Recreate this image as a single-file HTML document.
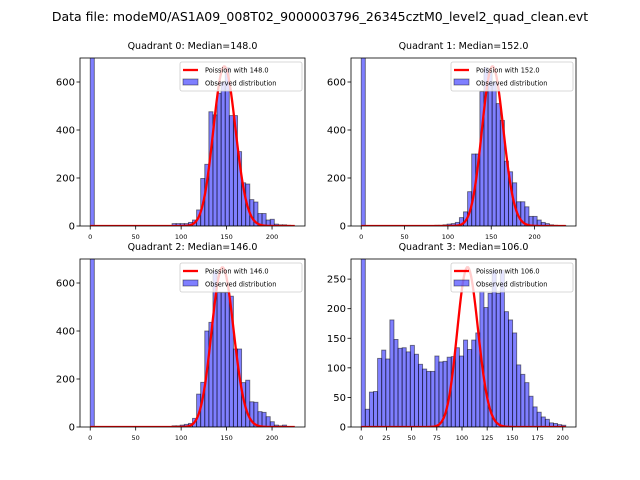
<!DOCTYPE html>
<html><head><meta charset="utf-8"><style>
body{margin:0;background:#fff;}
svg{display:block;font-family:"DejaVu Sans","Liberation Sans",sans-serif;}
</style></head><body>
<svg id="fig" width="640" height="480" viewBox="0 0 640 480">
<text x="320" y="21" font-size="12.5" text-anchor="middle">Data file: modeM0/AS1A09_008T02_9000003796_26345cztM0_level2_quad_clean.evt</text>
</svg>
<script>
const quadrantNames = ["Quadrant 0: Median=148.0","Quadrant 1: Median=152.0","Quadrant 2: Median=146.0","Quadrant 3: Median=106.0"];
const medians = [148, 152, 146, 106];
const curvePeaks = [665, 665, 665, 270];
const binWidths = [4.5, 4.72, 4.5, 4.06];
const counts0 = [2000,0,0,0,0,0,0,0,0,0,0,0,0,0,0,0,0,0,0,0,10,10,10,10,15,25,67,198,257,476,463,553,600,660,460,460,310,180,175,110,100,52,52,25,28,8,5,5,3,0];
const counts1 = [2000,0,0,0,0,0,0,0,0,0,0,0,0,0,0,0,0,0,3,3,5,8,10,15,35,59,143,300,300,560,660,640,600,510,440,270,226,180,101,101,80,40,40,25,15,10,5,3,2,2];
const counts2 = [2000,0,0,0,0,0,0,0,0,0,0,0,0,0,0,0,0,0,0,0,5,5,8,11,15,36,137,186,400,436,650,560,560,560,545,325,325,185,195,105,103,64,61,43,22,8,5,8,0,0];
const counts3 = [800,30,59,60,116,130,115,181,148,133,134,127,138,123,106,98,94,94,120,110,111,118,119,134,120,147,131,147,159,229,202,226,265,226,265,195,181,159,105,89,75,52,34,25,17,13,7,6,4,3];
const xTicks0 = [0,50,100,150,200];
const xTicks3 = [0,25,50,75,100,125,150,175,200];
const yTicks0 = [0,200,400,600];
const yTicks3 = [0,50,100,150,200,250];
const curveMax = [225, 236, 225, 203];
const xLims = [[-11.25,236.25],[-11.8,247.8],[-11.25,236.25],[-10.15,213.15]];
const yLims = [[0,700],[0,700],[0,700],[0,284]];

const allCounts=[counts0,counts1,counts2,counts3];
const boxes=[[80,58,225,168],[351,58,225,168],[80,259,225,168],[351,259,225,168]];
const NS="http://www.w3.org/2000/svg";
const svg=document.getElementById('fig');
function mk(tag,attrs,parent){const e=document.createElementNS(NS,tag);for(const k in attrs)e.setAttribute(k,attrs[k]);(parent||svg).appendChild(e);return e;}
function lgamma(z){ if(z<7){let p=1;while(z<7){p*=z;z++;}return lgamma(z)-Math.log(p);} return (z-0.5)*Math.log(z)-z+0.5*Math.log(2*Math.PI)+1/(12*z)-1/(360*z*z*z);}
function pois(k,l){return Math.exp(k*Math.log(l)-l-lgamma(k+1));}

for(let q=0;q<4;q++){
  const [bx,by,bw,bh]=boxes[q];
  const xl=xLims[q], yl=yLims[q];
  const X=v=>bx+(v-xl[0])/(xl[1]-xl[0])*bw;
  const Y=v=>by+bh-(v-yl[0])/(yl[1]-yl[0])*bh;
  const g=mk('g',{});
  
  
  const cp=mk('clipPath',{id:'c'+q},g);
  mk('rect',{x:bx,y:by,width:bw,height:bh},cp);
  const t=mk('text',{x:bx+bw/2,y:by-9,'font-size':'9.5','text-anchor':'middle'},g);
  t.textContent=quadrantNames[q];
  
  
  const bars=mk('g',{'clip-path':'url(#c'+q+')'},g);
  const cs=allCounts[q], w=binWidths[q];
  for(let i=0;i<cs.length;i++){
    if(cs[i]<=0)continue;
    const r=mk('rect',{x:X(i*w),y:Y(cs[i]),width:X((i+1)*w)-X(i*w),height:Y(0)-Y(cs[i]),fill:'rgba(0,0,255,0.5)',stroke:'rgba(0,0,0,0.5)','stroke-width':'0.9'},bars);
    
    
  }
  const lam=medians[q], norm=curvePeaks[q]/pois(Math.round(lam),lam);
  let d='';
  for(let k=0;k<=curveMax[q];k++){d+=(k?'L':'M')+X(k).toFixed(2)+','+Y(pois(k,lam)*norm).toFixed(2);}
  const p=mk('path',{d:d,fill:'none',stroke:'#ff0000','stroke-width':'2.3','clip-path':'url(#c'+q+')'},g);
  
  
  mk('rect',{x:bx,y:by,width:bw,height:bh,fill:'none',stroke:'#000','stroke-width':'0.8'},g);
  const xt=q===3?xTicks3:xTicks0;
  xt.forEach(v=>{
    mk('line',{x1:X(v),x2:X(v),y1:by+bh,y2:by+bh+3.5,stroke:'#000','stroke-width':'0.8'},g);
    const l=mk('text',{x:X(v),y:by+bh+13,'font-size':'6.5','text-anchor':'middle'},g);
    l.textContent=v;
    
    
  });
  const yt=q===3?yTicks3:yTicks0;
  yt.forEach(v=>{
    mk('line',{x1:bx-3.5,x2:bx,y1:Y(v),y2:Y(v),stroke:'#000','stroke-width':'0.8'},g);
    const l=mk('text',{x:bx-5,y:Y(v)+3.5,'font-size':'10','text-anchor':'end'},g);
    l.textContent=v;
    
    
  });
  const lg=mk('g',{},g);
  
  
  const lx=bx+bw-125, ly=by+4;
  mk('rect',{x:lx,y:ly,width:122,height:29,fill:'rgba(255,255,255,0.8)',stroke:'#ccc','stroke-width':'0.8',rx:'2'},lg);
  mk('line',{x1:lx+3,x2:lx+18,y1:ly+8,y2:ly+8,stroke:'#ff0000','stroke-width':'2.3'},lg);
  const t1=mk('text',{x:lx+25,y:ly+10.5,'font-size':'6.6'},lg);
  t1.textContent='Poission with '+lam.toFixed(1);
  
  
  mk('rect',{x:lx+3,y:ly+17,width:15,height:6,fill:'rgba(0,0,255,0.5)',stroke:'rgba(0,0,0,0.5)','stroke-width':'0.8'},lg);
  const t2=mk('text',{x:lx+25,y:ly+23.5,'font-size':'6.6'},lg);
  t2.textContent='Observed distribution';
  
  
}
</script>
</body></html>
